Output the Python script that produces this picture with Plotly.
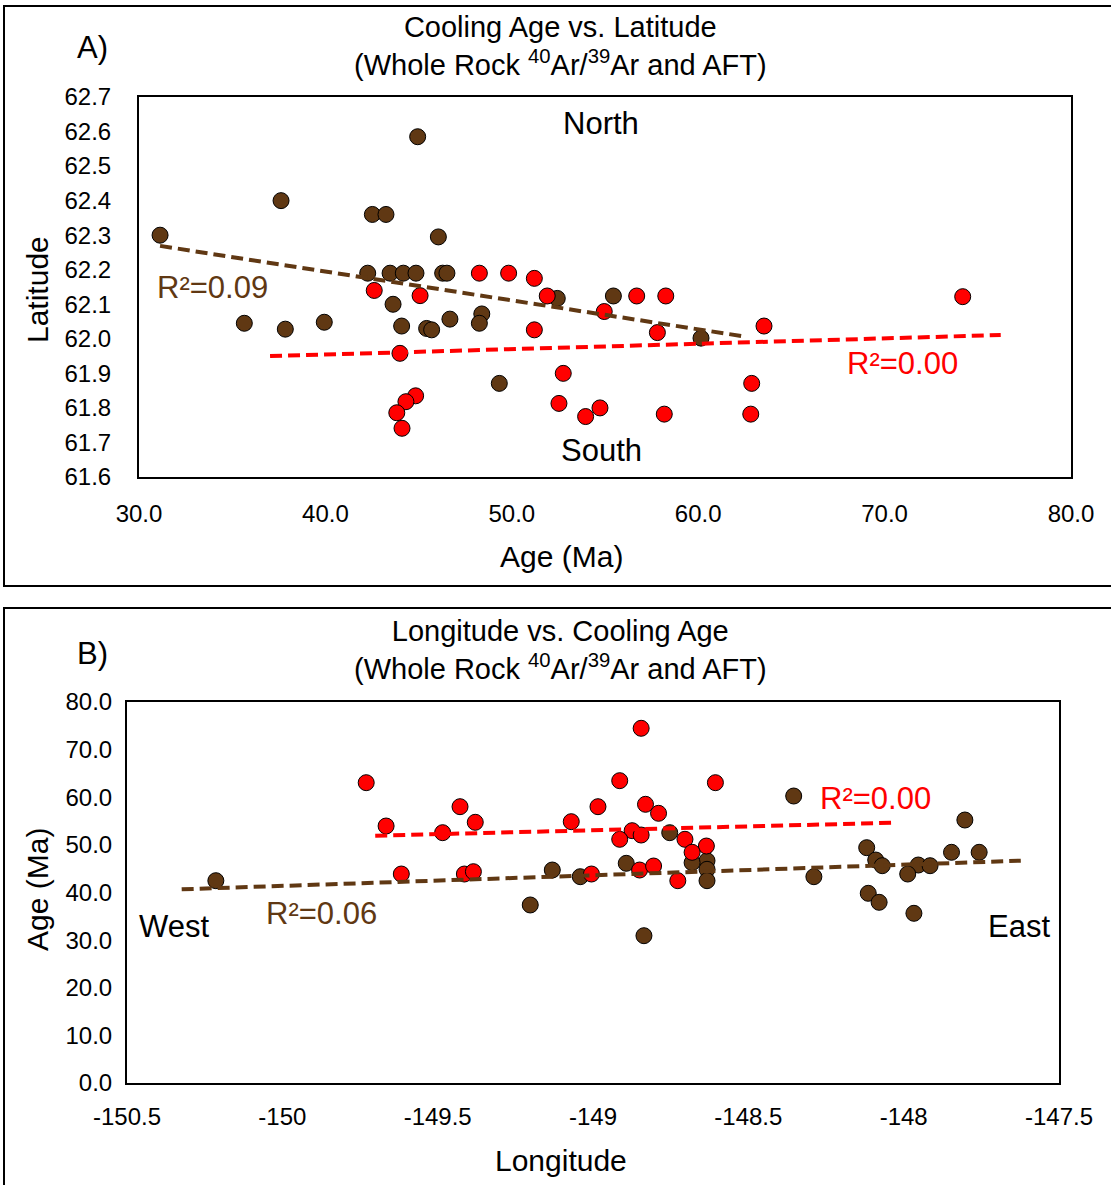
import plotly.graph_objects as go

# ---------------- Data ----------------
# Panel A: Age (Ma) vs Latitude
a_brown_age = [31.13, 37.62, 44.95, 42.52, 43.25, 46.06, 42.27, 43.47, 44.18, 44.86, 46.29, 46.52, 43.63,
               35.65, 37.85, 39.94, 44.09, 45.43, 45.70, 46.68, 48.39, 48.26, 52.44, 55.45, 60.15, 49.33]
a_brown_lat = [62.30, 62.40, 62.585, 62.36, 62.36, 62.295, 62.19, 62.19, 62.19, 62.19, 62.19, 62.19, 62.10,
               62.045, 62.028, 62.048, 62.037, 62.03, 62.026, 62.057, 62.072, 62.045, 62.117, 62.124, 62.002, 61.871]
a_red_age = [42.62, 45.08, 44.00, 44.84, 44.32, 43.83, 44.11, 48.26, 49.83, 51.21, 51.90, 56.70, 58.26,
             54.96, 51.21, 57.81, 63.53, 52.76, 52.53, 53.96, 54.73, 58.18, 62.87, 62.82, 74.19]
a_red_lat = [62.14, 62.125, 61.958, 61.835, 61.818, 61.786, 61.741, 62.19, 62.19, 62.175, 62.124, 62.124, 62.124,
             62.079, 62.026, 62.018, 62.037, 61.90, 61.813, 61.775, 61.80, 61.782, 61.871, 61.782, 62.122]
a_brown_trend_age = [31.13, 62.33]
a_brown_trend_lat = [62.269, 62.008]
a_red_trend_age = [37.03, 76.23]
a_red_trend_lat = [61.950, 62.011]
a_xticks = [30, 40, 50, 60, 70, 80]
a_xticklabels = ["30.0", "40.0", "50.0", "60.0", "70.0", "80.0"]
a_yticks = [61.6, 61.7, 61.8, 61.9, 62.0, 62.1, 62.2, 62.3, 62.4, 62.5, 62.6, 62.7]
a_yticklabels = ["61.6", "61.7", "61.8", "61.9", "62.0", "62.1", "62.2", "62.3", "62.4", "62.5", "62.6", "62.7"]

# Panel B: Longitude vs Age (Ma)
b_brown_lon = [-150.214, -148.753, -148.633, -148.681, -148.633, -148.633, -148.893, -149.131, -149.041,
               -149.202, -148.836, -148.354, -147.803, -148.119, -148.090, -148.069, -147.846, -147.757,
               -147.953, -147.915, -147.987, -148.289, -148.114, -148.079, -147.967]
b_brown_age = [42.48, 52.56, 46.68, 46.26, 44.87, 42.48, 46.13, 44.72, 43.32, 37.38, 30.93, 60.26, 55.22,
               49.41, 46.82, 45.63, 48.44, 48.44, 45.77, 45.63, 43.88, 43.32, 39.83, 37.94, 35.63]
b_red_lon = [-149.730, -149.428, -149.666, -149.484, -149.379, -149.617, -149.414, -149.385, -148.845,
             -148.914, -148.606, -148.984, -148.831, -148.789, -149.070, -148.874, -148.845, -148.914,
             -148.704, -148.635, -148.681, -148.727, -148.850, -148.805, -149.005]
b_red_age = [63.06, 58.02, 53.96, 52.56, 54.74, 43.88, 43.88, 44.37, 74.48, 63.48, 63.06, 58.02, 58.52,
             56.63, 54.87, 52.98, 52.07, 51.17, 51.17, 49.76, 48.44, 42.48, 44.72, 45.56, 43.88]
b_brown_trend_lon = [-150.324, -147.623]
b_brown_trend_age = [40.67, 46.68]
b_red_trend_lon = [-149.701, -148.023]
b_red_trend_age = [51.93, 54.66]
b_xticks = [-150.5, -150, -149.5, -149, -148.5, -148, -147.5]
b_xticklabels = ["-150.5", "-150", "-149.5", "-149", "-148.5", "-148", "-147.5"]
b_yticks = [0, 10, 20, 30, 40, 50, 60, 70, 80]
b_yticklabels = ["0.0", "10.0", "20.0", "30.0", "40.0", "50.0", "60.0", "70.0", "80.0"]

# ---------------- Styling ----------------
W, H = 1111, 1185
BROWN = "#603813"
RED = "#FF0000"
FONT = "Liberation Sans, Arial, sans-serif"


def fx(p):
    return p / W


def fy(p):
    return 1 - p / H


marker_common = dict(size=16, line=dict(color="black", width=1))
dash = "12px,6px"

fig = go.Figure()
# Panel A
fig.add_trace(go.Scatter(x=a_brown_age, y=a_brown_lat, mode="markers", xaxis="x", yaxis="y",
                         marker=dict(color=BROWN, **marker_common)))
fig.add_trace(go.Scatter(x=a_red_age, y=a_red_lat, mode="markers", xaxis="x", yaxis="y",
                         marker=dict(color=RED, **marker_common)))
fig.add_trace(go.Scatter(x=a_brown_trend_age, y=a_brown_trend_lat, mode="lines", xaxis="x", yaxis="y",
                         line=dict(color=BROWN, width=4, dash=dash)))
fig.add_trace(go.Scatter(x=a_red_trend_age, y=a_red_trend_lat, mode="lines", xaxis="x", yaxis="y",
                         line=dict(color=RED, width=4, dash=dash)))
# Panel B
fig.add_trace(go.Scatter(x=b_brown_lon, y=b_brown_age, mode="markers", xaxis="x2", yaxis="y2",
                         marker=dict(color=BROWN, **marker_common)))
fig.add_trace(go.Scatter(x=b_red_lon, y=b_red_age, mode="markers", xaxis="x2", yaxis="y2",
                         marker=dict(color=RED, **marker_common)))
fig.add_trace(go.Scatter(x=b_brown_trend_lon, y=b_brown_trend_age, mode="lines", xaxis="x2", yaxis="y2",
                         line=dict(color=BROWN, width=4, dash=dash)))
fig.add_trace(go.Scatter(x=b_red_trend_lon, y=b_red_trend_age, mode="lines", xaxis="x2", yaxis="y2",
                         line=dict(color=RED, width=4, dash=dash)))

axis_common = dict(showline=True, mirror=True, linecolor="black", linewidth=2, showgrid=False,
                   zeroline=False, ticks="", automargin=False,
                   tickfont=dict(family=FONT, size=24, color="black"))

fig.update_layout(
    template="none",
    width=W, height=H, margin=dict(l=0, r=0, t=0, b=0, pad=0, autoexpand=False),
    paper_bgcolor="white", plot_bgcolor="white", showlegend=False,
    font=dict(family=FONT, color="black"),
    xaxis=dict(domain=[fx(139), fx(1071)], range=[30, 80], tickvals=a_xticks, ticktext=a_xticklabels,
               anchor="y", ticklabelstandoff=14, **axis_common),
    yaxis=dict(domain=[fy(477), fy(97)], range=[61.6, 62.7], tickvals=a_yticks, ticktext=a_yticklabels,
               anchor="x", ticklabelstandoff=21, **axis_common),
    xaxis2=dict(domain=[fx(127), fx(1059)], range=[-150.5, -147.5], tickvals=b_xticks, ticktext=b_xticklabels,
                anchor="y2", ticklabelstandoff=11, **axis_common),
    yaxis2=dict(domain=[fy(1083), fy(702)], range=[0, 80], tickvals=b_yticks, ticktext=b_yticklabels,
                anchor="x2", ticklabelstandoff=8, **axis_common),
)


def ann(text, x, y, size=28, color="black", angle=0):
    fig.add_annotation(text=text, x=fx(x), y=fy(y), xref="paper", yref="paper", showarrow=False,
                       xanchor="center", yanchor="middle", textangle=angle,
                       font=dict(family=FONT, size=size, color=color))


SUBTITLE = "(Whole Rock <sup>40</sup>Ar/<sup>39</sup>Ar and AFT)"

# Panel A texts
ann("A)", 92, 48, 31)
ann("Cooling Age vs. Latitude<br>" + SUBTITLE, 560, 46, 29)
ann("North", 601, 124, 31)
ann("South", 601, 450, 31)
ann("R²=0.09", 212, 287, 31, BROWN)
ann("R²=0.00", 902, 363, 31, RED)
ann("Latitude", 37, 290, 30, angle=-90)
ann("Age (Ma)", 561, 556, 30)

# Panel B texts
ann("B)", 92, 653, 31)
ann("Longitude vs. Cooling Age<br>" + SUBTITLE, 560, 650, 29)
ann("West", 174, 927, 31)
ann("East", 1019, 927, 31)
ann("R²=0.06", 321, 913, 31, BROWN)
ann("R²=0.00", 875, 798, 31, RED)
ann("Age (Ma)", 37, 890, 30, angle=-90)
ann("Longitude", 561, 1160, 30)

# Outer panel frames
for (x0, y0, x1, y1) in [(4, 6, 1116, 586), (4, 608, 1116, 1192)]:
    fig.add_shape(type="rect", xref="paper", yref="paper", x0=fx(x0), x1=fx(x1), y0=fy(y1), y1=fy(y0),
                  line=dict(color="black", width=2), fillcolor="rgba(0,0,0,0)", layer="below")

fig.write_html("out.html")
